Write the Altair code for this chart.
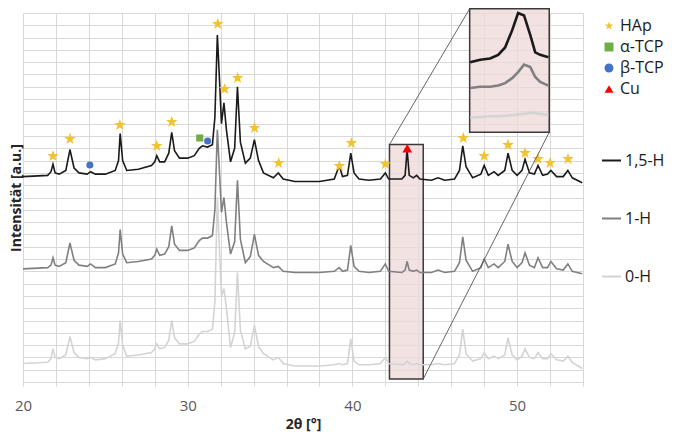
import altair as alt
import pandas as pd

# ---------------- data ----------------
two_theta = [20.0, 21.5, 21.7, 21.82, 21.95, 22.2, 22.6, 22.85, 23.1, 23.4,
             23.9, 24.1, 24.4, 25.0, 25.6, 25.8, 25.9, 26.05, 26.3, 27.0,
             27.8, 28.0, 28.12, 28.3, 28.6, 28.85, 29.03, 29.2, 29.5, 30.0,
             30.4, 30.7, 30.9, 31.2, 31.5, 31.65, 31.8, 31.95, 32.05, 32.2,
             32.35, 32.6, 32.85, 33.02, 33.2, 33.5, 33.8, 34.05, 34.3, 34.6,
             35.2, 35.5, 35.8, 36.5, 38.0, 38.9, 39.2, 39.4, 39.7, 39.9,
             40.1, 40.4, 41.0, 41.7, 42.0, 42.2, 43.0, 43.2, 43.32, 43.45,
             43.7, 43.9, 44.1, 44.8, 45.2, 45.6, 46.2, 46.5, 46.7, 46.9,
             47.3, 47.8, 48.0, 48.25, 48.6, 48.85, 49.25, 49.45, 49.7, 50.0,
             50.3, 50.48, 50.75, 51.05, 51.27, 51.55, 51.85, 52.05, 52.4, 52.8,
             53.08, 53.35, 53.95]

int_15H = [16.7, 16.8, 17.1, 17.7, 17.0, 16.9, 17.2, 18.9, 17.4, 17.0,
           16.9, 17.1, 16.9, 16.9, 17.2, 18.0, 20.2, 18.0, 17.2, 17.3,
           17.6, 17.9, 18.4, 17.9, 17.9, 18.6, 20.3, 18.8, 18.2, 18.2,
           18.4, 19.0, 19.2, 19.1, 19.3, 21.5, 28.2, 24.0, 21.0, 22.7,
           20.5, 17.9, 19.0, 24.0, 19.5, 17.8, 18.2, 19.7, 18.0, 17.0,
           16.6, 17.0, 16.5, 16.3, 16.3, 16.5, 17.6, 16.7, 16.8, 18.6,
           17.0, 16.5, 16.4, 16.5, 17.0, 16.5, 16.5, 16.8, 18.9, 16.8,
           16.6, 16.8, 16.5, 16.4, 16.6, 16.4, 16.5, 17.2, 19.2, 17.5,
           16.6, 16.9, 17.6, 16.8, 17.1, 16.8, 17.2, 18.6, 17.2, 16.8,
           17.2, 18.1, 17.0, 16.9, 17.6, 16.8, 16.9, 17.2, 16.7, 16.7,
           17.2, 16.6, 16.2]

int_1H = [9.2, 9.3, 9.5, 10.1, 9.5, 9.4, 9.7, 11.3, 9.9, 9.5,
          9.4, 9.6, 9.3, 9.3, 9.6, 10.5, 12.4, 10.4, 9.7, 9.8,
          10.0, 10.3, 10.8, 10.3, 10.4, 11.0, 12.7, 11.2, 10.7, 10.7,
          10.9, 11.5, 11.7, 11.7, 11.9, 14.0, 20.5, 16.5, 13.8, 15.0,
          13.0, 10.4, 11.4, 16.4, 11.6, 9.7, 10.2, 12.0, 10.3, 9.8,
          9.3, 9.4, 9.0, 8.9, 8.9, 9.0, 9.3, 9.0, 9.1, 11.1,
          9.4, 9.0, 8.9, 9.0, 9.6, 9.0, 8.9, 9.1, 9.8, 9.1,
          9.0, 9.1, 8.9, 8.9, 9.1, 8.9, 9.0, 9.7, 11.8, 9.9,
          9.0, 9.3, 10.0, 9.3, 9.6, 9.3, 9.8, 11.2, 9.8, 9.3,
          9.7, 10.5, 9.5, 9.3, 10.1, 9.3, 9.3, 9.8, 9.2, 9.1,
          9.6, 9.0, 8.8]

int_0H = [1.5, 1.6, 1.9, 2.7, 2.0, 1.9, 2.2, 3.7, 2.4, 2.0,
          1.9, 2.0, 1.8, 1.9, 2.3, 3.2, 5.0, 3.0, 2.1, 2.2,
          2.4, 2.7, 3.1, 2.7, 2.8, 3.4, 5.0, 3.6, 3.1, 3.1,
          3.3, 3.9, 4.1, 4.1, 4.3, 6.5, 15.0, 10.0, 7.0, 7.6,
          6.0, 2.8, 4.0, 8.9, 4.2, 2.7, 2.9, 4.6, 2.9, 2.3,
          1.8, 2.0, 1.5, 1.3, 1.3, 1.4, 1.5, 1.4, 1.5, 3.5,
          1.7, 1.4, 1.4, 1.5, 2.0, 1.5, 1.4, 1.5, 1.7, 1.5,
          1.4, 1.5, 1.4, 1.4, 1.5, 1.4, 1.5, 2.2, 4.3, 2.3,
          1.7, 1.9, 2.4, 1.9, 2.1, 1.9, 2.2, 3.6, 2.2, 1.8,
          2.1, 2.7, 2.0, 1.9, 2.4, 1.9, 1.9, 2.3, 1.8, 1.7,
          2.1, 1.6, 1.1]

samples = ["1,5-H", "1-H", "0-H"]
sample_colors = ["#1a1a1a", "#808080", "#d4d4d4"]

# phase markers
phases = ["HAp", "α-TCP", "β-TCP", "Cu"]
phase_colors = ["#F2C230", "#70AD47", "#4472C4", "#FF0000"]
STAR = ("M0,-1L0.235,-0.324L0.951,-0.309L0.38,0.124L0.588,0.809L0,0.4"
        "L-0.588,0.809L-0.38,0.124L-0.951,-0.309L-0.235,-0.324Z")
phase_shapes = [STAR, "square", "circle", "triangle-up"]

hap_x = [21.82, 22.85, 25.88, 28.12, 29.03, 31.82, 32.24, 33.03, 34.06, 35.52,
         39.21, 39.94, 42.0, 46.73, 48.0, 49.45, 50.48, 51.27, 52.0, 53.09]
hap_y = [18.37, 19.76, 20.89, 19.19, 21.14, 29.11, 23.82, 24.72, 20.65, 17.80,
         17.56, 19.43, 17.72, 19.84, 18.37, 19.27, 18.62, 18.13, 17.80, 18.13]
atcp_x = [30.73]
atcp_y = [19.84]
btcp_x = [24.06, 31.21]
btcp_y = [17.64, 19.59]
cu_x = [43.33]
cu_y = [19.0]

# zoom window (in 2θ / intensity units) and the inset box
zoom_win = dict(x=42.25, x2=44.3, y=0.25, y2=19.3)
inset_box = dict(x=47.12, x2=51.95, y=20.3, y2=30.35)

# inset traces (as drawn inside the inset box)
inset_x = [47.15, 47.76, 48.36, 48.85, 49.27, 49.7, 50.06, 50.42, 50.8, 51.1, 51.4, 51.9]
inset_15H = [26.0, 26.2, 26.3, 26.6, 27.2, 28.6, 30.0, 29.8, 28.2, 26.8, 26.6, 26.4]
inset_1H = [23.9, 24.0, 24.0, 24.1, 24.3, 24.7, 25.2, 25.8, 25.6, 24.8, 24.4, 24.1]
inset_0H = [21.5, 21.55, 21.6, 21.6, 21.65, 21.7, 21.75, 21.8, 21.9, 21.85, 21.8, 21.7]

# ---------------- tables ----------------
lines_df = pd.concat([
    pd.DataFrame({"tt": two_theta, "I": int_0H, "sample": "0-H"}),
    pd.DataFrame({"tt": two_theta, "I": int_1H, "sample": "1-H"}),
    pd.DataFrame({"tt": two_theta, "I": int_15H, "sample": "1,5-H"}),
], ignore_index=True)

marks_df = pd.concat([
    pd.DataFrame({"tt": hap_x, "I": hap_y, "phase": "HAp"}),
    pd.DataFrame({"tt": atcp_x, "I": atcp_y, "phase": "α-TCP"}),
    pd.DataFrame({"tt": btcp_x, "I": btcp_y, "phase": "β-TCP"}),
    pd.DataFrame({"tt": cu_x, "I": cu_y, "phase": "Cu"}),
], ignore_index=True)

inset_df = pd.concat([
    pd.DataFrame({"tt": inset_x, "I": inset_0H, "sample": "0-H"}),
    pd.DataFrame({"tt": inset_x, "I": inset_1H, "sample": "1-H"}),
    pd.DataFrame({"tt": inset_x, "I": inset_15H, "sample": "1,5-H"}),
], ignore_index=True)

rect_df = pd.DataFrame([zoom_win, inset_box])
conn_df = pd.DataFrame({
    "x": [zoom_win["x"], zoom_win["x2"]],
    "y": [zoom_win["y2"], zoom_win["y"]],
    "x2": [inset_box["x"], inset_box["x2"]],
    "y2": [inset_box["y2"], inset_box["y"]],
})

FONT = "Open Sans"
GRID = "#d9d9d9"

xscale = alt.Scale(domain=[20, 54], zero=False, nice=False)
yscale = alt.Scale(domain=[0, 30], zero=False, nice=False)

xaxis = alt.Axis(values=list(range(20, 55, 2)),
                 labelExpr="datum.value % 10 === 0 ? datum.label : ''",
                 labelFlush=False,
                 grid=True, gridColor=GRID, domain=False,
                 tickColor=GRID, tickSize=4, labelPadding=12,
                 labelFontSize=15, labelColor="#595959", labelFont=FONT,
                 title="2θ [°]", titleFont=FONT, titleFontSize=14,
                 titleFontWeight="bold", titleColor="#262626", titlePadding=4)
yaxis = alt.Axis(values=list(range(0, 31)), grid=True, gridColor=GRID,
                 labels=False, ticks=False, domain=False,
                 title="Intensität [a.u.]", titleFont=FONT, titleFontSize=14,
                 titleFontWeight="bold", titleColor="#262626", titlePadding=0)


def X(field):
    return alt.X(field, type="quantitative", scale=xscale, axis=xaxis)


def Y(field):
    return alt.Y(field, type="quantitative", scale=yscale, axis=yaxis)


rects = alt.Chart(rect_df).mark_rect(
    fill="#eed8d8", fillOpacity=0.75, stroke="#3a3a3a", strokeWidth=1.5
).encode(x=X("x"), x2="x2:Q", y=Y("y"), y2="y2:Q")

lines = alt.Chart(lines_df).mark_line(strokeWidth=1.6).encode(
    x=X("tt"),
    y=Y("I"),
    stroke=alt.Stroke("sample:N",
                      scale=alt.Scale(domain=samples, range=sample_colors),
                      legend=alt.Legend(orient="none", legendX=578, legendY=137,
                                        title=None, symbolType="stroke",
                                        symbolSize=361, symbolStrokeWidth=2,
                                        labelFontSize=16, labelFont=FONT,
                                        labelColor="#1a1a1a", labelOffset=3,
                                        rowPadding=39, padding=0)),
)

marker_size = (alt.when(alt.datum.phase == "HAp").then(alt.value(150))
               .when(alt.datum.phase == "Cu").then(alt.value(95))
               .otherwise(alt.value(50)))

markers = alt.Chart(marks_df).mark_point(filled=True, opacity=1).encode(
    x=X("tt"),
    y=Y("I"),
    fill=alt.Fill("phase:N", scale=alt.Scale(domain=phases, range=phase_colors),
                  legend=alt.Legend(orient="none", legendX=578, legendY=5,
                                    title=None, labelFontSize=16, labelFont=FONT,
                                    labelColor="#1a1a1a", labelOffset=3,
                                    symbolSize=80, rowPadding=5, padding=0)),
    shape=alt.Shape("phase:N", scale=alt.Scale(domain=phases, range=phase_shapes)),
    size=marker_size,
)

connectors = alt.Chart(conn_df).mark_rule(color="#555555", strokeWidth=0.9).encode(
    x=X("x"), y=Y("y"), x2="x2:Q", y2="y2:Q",
)

inset_lines = alt.Chart(inset_df).mark_line(strokeWidth=2.6).encode(
    x=X("tt"),
    y=Y("I"),
    stroke=alt.Stroke("sample:N", scale=alt.Scale(domain=samples, range=sample_colors),
                      legend=None),
)

chart = alt.layer(rects, lines, markers, connectors, inset_lines).properties(
    width=560, height=369,
    autosize=alt.AutoSizeParams(type="none"),
    padding={"left": 15, "top": 5, "right": 84, "bottom": 52},
).configure(font=FONT).configure_view(stroke=None)

chart.save("out.html", embed_options={"renderer": "svg", "actions": False})
